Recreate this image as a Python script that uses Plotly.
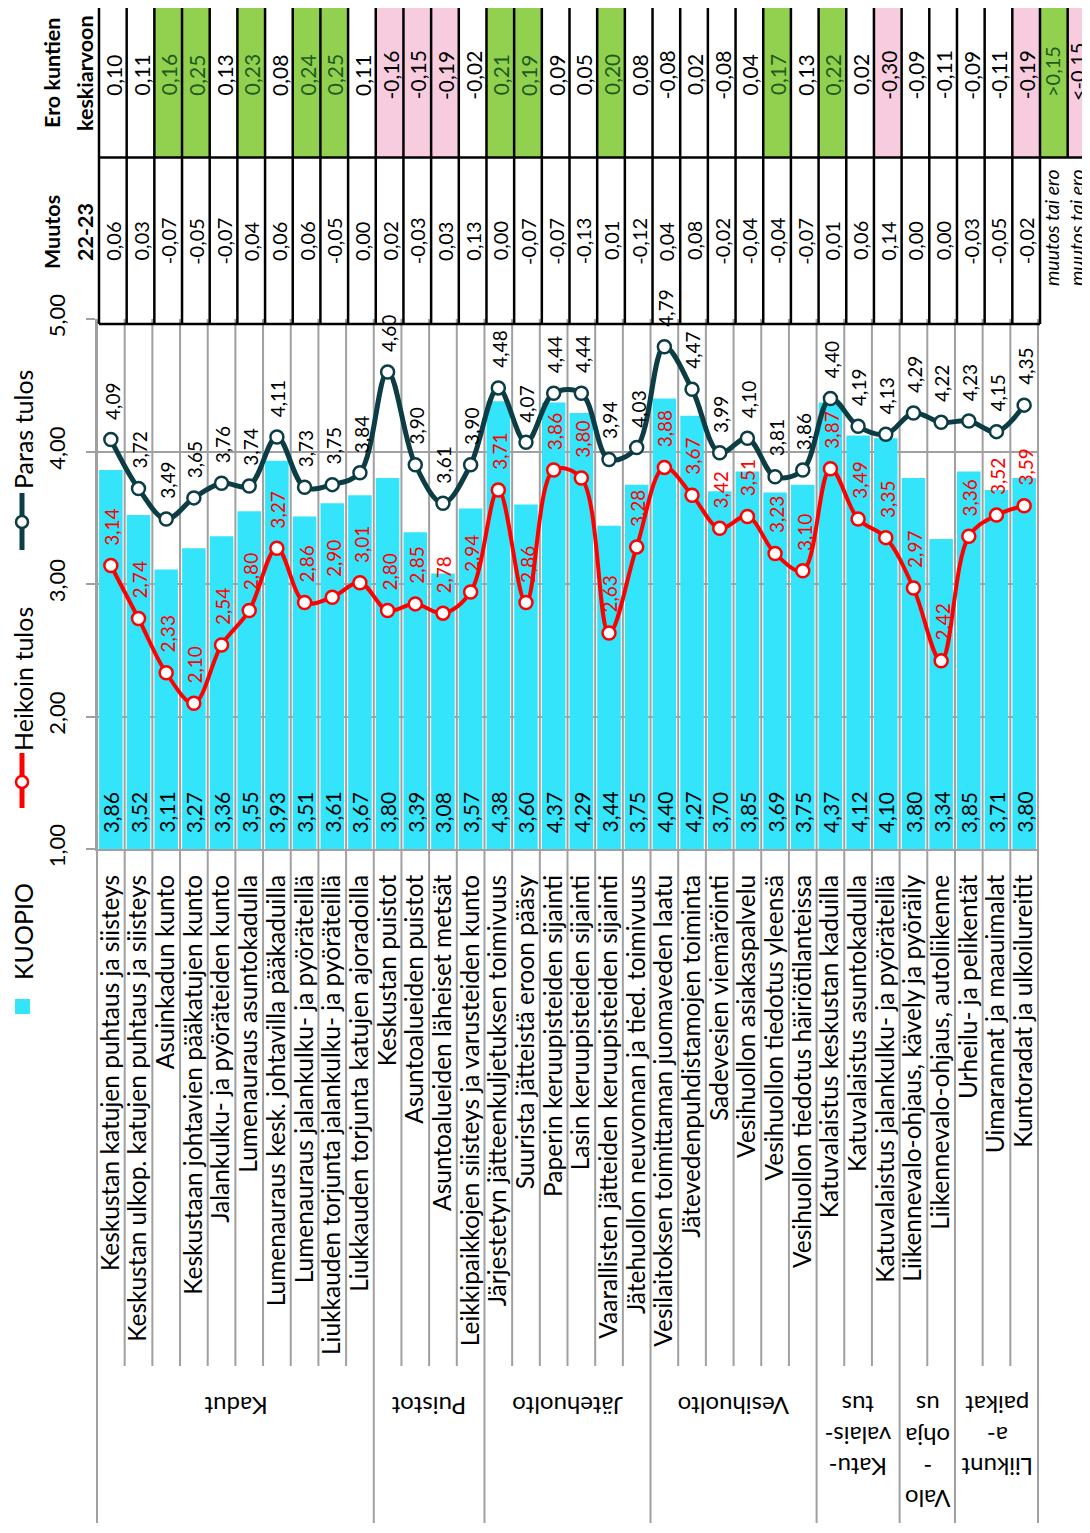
import plotly.graph_objects as go

categories = [
    "Keskustan katujen puhtaus ja siisteys",
    "Keskustan ulkop. katujen puhtaus ja siisteys",
    "Asuinkadun kunto",
    "Keskustaan johtavien pääkatujen kunto",
    "Jalankulku- ja pyöräteiden kunto",
    "Lumenauraus asuntokadulla",
    "Lumenauraus kesk. johtavilla pääkaduilla",
    "Lumenauraus jalankulku- ja pyöräteillä",
    "Liukkauden torjunta jalankulku- ja pyöräteillä",
    "Liukkauden torjunta katujen ajoradoilla",
    "Keskustan puistot",
    "Asuntoalueiden puistot",
    "Asuntoalueiden läheiset metsät",
    "Leikkipaikkojen siisteys ja varusteiden kunto",
    "Järjestetyn jätteenkuljetuksen toimivuus",
    "Suurista jätteistä eroon pääsy",
    "Paperin keruupisteiden sijainti",
    "Lasin keruupisteiden sijainti",
    "Vaarallisten jätteiden keruupisteiden sijainti",
    "Jätehuollon neuvonnan ja tied. toimivuus",
    "Vesilaitoksen toimittaman juomaveden laatu",
    "Jätevedenpuhdistamojen toiminta",
    "Sadevesien viemäröinti",
    "Vesihuollon asiakaspalvelu",
    "Vesihuollon tiedotus yleensä",
    "Vesihuollon tiedotus häiriötilanteissa",
    "Katuvalaistus keskustan kaduilla",
    "Katuvalaistus asuntokadulla",
    "Katuvalaistus jalankulku- ja pyöräteillä",
    "Liikennevalo-ohjaus, kävely ja pyöräily",
    "Liikennevalo-ohjaus, autoliikenne",
    "Urheilu- ja pelikentät",
    "Uimarannat ja maauimalat",
    "Kuntoradat ja ulkoilureitit",
]
kuopio = [3.86, 3.52, 3.11, 3.27, 3.36, 3.55, 3.93, 3.51, 3.61, 3.67,
          3.80, 3.39, 3.08, 3.57,
          4.38, 3.60, 4.37, 4.29, 3.44, 3.75,
          4.40, 4.27, 3.70, 3.85, 3.69, 3.75,
          4.37, 4.12, 4.10,
          3.80, 3.34,
          3.85, 3.71, 3.80]
heikoin = [3.14, 2.74, 2.33, 2.10, 2.54, 2.80, 3.27, 2.86, 2.90, 3.01,
           2.80, 2.85, 2.78, 2.94,
           3.71, 2.86, 3.86, 3.80, 2.63, 3.28,
           3.88, 3.67, 3.42, 3.51, 3.23, 3.10,
           3.87, 3.49, 3.35,
           2.97, 2.42,
           3.36, 3.52, 3.59]
paras = [4.09, 3.72, 3.49, 3.65, 3.76, 3.74, 4.11, 3.73, 3.75, 3.84,
         4.60, 3.90, 3.61, 3.90,
         4.48, 4.07, 4.44, 4.44, 3.94, 4.03,
         4.79, 4.47, 3.99, 4.10, 3.81, 3.86,
         4.40, 4.19, 4.13,
         4.29, 4.22,
         4.23, 4.15, 4.35]
muutos = [0.06, 0.03, -0.07, -0.05, -0.07, 0.04, 0.06, 0.06, -0.05, 0.00,
          0.02, -0.03, 0.03, 0.13,
          0.00, -0.07, -0.07, -0.13, 0.01, -0.12,
          0.04, 0.08, -0.02, -0.04, -0.04, -0.07,
          0.01, 0.06, 0.14,
          0.00, 0.00,
          -0.03, -0.05, -0.02]
ero = [0.10, 0.11, 0.16, 0.25, 0.13, 0.23, 0.08, 0.24, 0.25, 0.11,
       -0.16, -0.15, -0.19, -0.02,
       0.21, 0.19, 0.09, 0.05, 0.20, 0.08,
       -0.08, 0.02, -0.08, 0.04, 0.17, 0.13,
       0.22, 0.02, -0.30,
       -0.09, -0.11,
       -0.09, -0.11, -0.19]
group_names = ["Kadut", "Puistot", "Jätehuolto", "Vesihuolto",
               "Katu-<br>valais-<br>tus", "Valo<br>-<br>ohja<br>us", "Liikunt<br>a-<br>paikat"]
group_sizes = [10, 4, 6, 6, 3, 2, 3]
series_names = ["KUOPIO", "Heikoin tulos", "Paras tulos"]
table_headers = [("Ero kuntien", "keskiarvoon"), ("Muutos", "22-23")]
threshold_texts = [">0,15", "<-0,15"]
note_text = "muutos tai ero"

# ---- styling / geometry (screen pixel coordinates) ----
OFF = 8                      # default page margin of the html body
W, H = 1090 - OFF, 1533 - 2 * OFF
L, R, T, B = 97, 1038, 319, 849
N = len(categories)
CW = (R - L) / N
FONT = "Lato"
CYAN = "#33E4FA"
RED = "#FF0000"
TEAL = "#0C3D44"
GRID = "#A0A0A0"
GREEN = "#92D050"
PINK = "#F8CCDF"
DKGREEN = "#1D5C1D"


def fmt(v):
    return f"{v:.2f}".replace(".", ",")


def px(x):
    return (x - L) / (R - L)


def py(y):
    return (B - y) / (B - T)


fig = go.Figure()
fig.add_trace(go.Bar(x=categories, y=kuopio, marker=dict(color=CYAN, line=dict(width=0)),
                     name=series_names[0]))
fig.add_trace(go.Scatter(x=categories, y=heikoin, mode="lines+markers", name=series_names[1],
                         line=dict(color=RED, width=4, shape="spline", smoothing=1.0),
                         marker=dict(size=13, color="white", line=dict(color=RED, width=2.5))))
fig.add_trace(go.Scatter(x=categories, y=paras, mode="lines+markers", name=series_names[2],
                         line=dict(color=TEAL, width=5, shape="spline", smoothing=1.0),
                         marker=dict(size=13, color="white", line=dict(color=TEAL, width=2.5))))

shapes = []
annotations = []

# vertical separators (plot + category label area)
group_bounds = [0]
for s in group_sizes:
    group_bounds.append(group_bounds[-1] + s)
for k in range(N + 1):
    xp = k / N
    yend = 1523 if k in group_bounds else 1366
    shapes.append(dict(type="line", xref="paper", yref="paper", x0=xp, x1=xp,
                       y0=1.0, y1=py(yend), line=dict(color=GRID, width=2), layer="below"))

# group labels
gy = {1: 1407, 3: 1437, 4: 1453}
for name, start, size in zip(group_names, group_bounds[:-1], group_sizes):
    nlines = name.count("<br>") + 1
    cx = L + (start + size / 2) * CW
    annotations.append(dict(text=name, x=px(cx), y=py(gy[nlines]), xref="paper", yref="paper",
                            showarrow=False, textangle=180, xanchor="center", yanchor="middle",
                            font=dict(family=FONT, size=24, color="black")))

# bar value labels
for c, v in zip(categories, kuopio):
    annotations.append(dict(text=fmt(v), x=c, y=1, xref="x", yref="y", showarrow=False,
                            textangle=-90, yanchor="bottom", yshift=14,
                            font=dict(family=FONT, size=21, color="black")))
# line labels
for c, v in zip(categories, heikoin):
    annotations.append(dict(text=fmt(v), x=c, y=v, xref="x", yref="y", showarrow=False,
                            textangle=-90, yanchor="bottom", yshift=18, xshift=1,
                            font=dict(family=FONT, size=19, color=RED)))
for c, v in zip(categories, paras):
    annotations.append(dict(text=fmt(v), x=c, y=v, xref="x", yref="y", showarrow=False,
                            textangle=-90, yanchor="bottom", yshift=18, xshift=1,
                            font=dict(family=FONT, size=19, color="black")))

# ---- table ----
TX = 2  # table offset px
ERO_Y0, ERO_Y1, MU_Y1 = -5, 157.5, 324


def tx(k):
    return L + k * CW + TX


for k, v in enumerate(ero):
    fill = GREEN if v >= 0.15 else (PINK if v <= -0.15 else None)
    if fill:
        shapes.append(dict(type="rect", xref="paper", yref="paper", x0=px(tx(k)), x1=px(tx(k + 1)),
                           y0=py(ERO_Y0), y1=py(ERO_Y1), fillcolor=fill, line=dict(width=0),
                           layer="above"))
    tcol = DKGREEN if v >= 0.15 else "black"
    annotations.append(dict(text=fmt(v), x=px(tx(k + 0.5)), y=py(75), xref="paper", yref="paper",
                            showarrow=False, textangle=-90, xanchor="center", yanchor="middle",
                            font=dict(family=FONT, size=21, color=tcol)))
for k, v in enumerate(muutos):
    annotations.append(dict(text=fmt(v), x=px(tx(k + 0.5)), y=py(241), xref="paper", yref="paper",
                            showarrow=False, textangle=-90, xanchor="center", yanchor="middle",
                            font=dict(family=FONT, size=20, color="black")))
# threshold legend cells
legend_text_x = [1052, 1077]
for j, (txt, fill, tcol) in enumerate(zip(threshold_texts, [GREEN, PINK], [DKGREEN, "black"])):
    k = N + j
    shapes.append(dict(type="rect", xref="paper", yref="paper", x0=px(tx(k)), x1=px(tx(k + 1)),
                       y0=py(ERO_Y0), y1=py(ERO_Y1), fillcolor=fill, line=dict(width=0), layer="above"))
    annotations.append(dict(text=txt, x=px(legend_text_x[j]), y=py(72), xref="paper", yref="paper",
                            showarrow=False, textangle=-90, xanchor="center", yanchor="middle",
                            font=dict(family=FONT, size=20, color=tcol)))
    annotations.append(dict(text=f"<i>{note_text}</i>", x=px(legend_text_x[j]), y=py(228),
                            xref="paper", yref="paper", showarrow=False, textangle=-90,
                            xanchor="center", yanchor="middle",
                            font=dict(family=FONT, size=19.5, color="black")))
# table lines
for k in range(N + 1):
    shapes.append(dict(type="line", xref="paper", yref="paper", x0=px(tx(k)), x1=px(tx(k)),
                       y0=py(ERO_Y0), y1=py(MU_Y1), line=dict(color="black", width=2.5), layer="above"))
shapes.append(dict(type="line", xref="paper", yref="paper", x0=px(tx(N + 1)), x1=px(tx(N + 1)),
                   y0=py(ERO_Y0), y1=py(ERO_Y1), line=dict(color="black", width=2.5), layer="above"))
shapes.append(dict(type="line", xref="paper", yref="paper", x0=px(tx(0)), x1=px(tx(N + 2)),
                   y0=py(ERO_Y1), y1=py(ERO_Y1), line=dict(color="black", width=2.5), layer="above"))
shapes.append(dict(type="line", xref="paper", yref="paper", x0=px(tx(0)), x1=px(tx(N)),
                   y0=py(MU_Y1), y1=py(MU_Y1), line=dict(color="black", width=2.5), layer="above"))

# table headers
for (l1, l2), yc in zip(table_headers, [73, 232]):
    for txt, xc in [(l1, 52), (l2, 85)]:
        annotations.append(dict(text=f"<b>{txt}</b>", x=px(xc), y=py(yc), xref="paper", yref="paper",
                                showarrow=False, textangle=-90, xanchor="center", yanchor="middle",
                                font=dict(family=FONT, size=21.5, color="black")))

# ---- manual legend ----
LX = 22
# Paras
shapes.append(dict(type="line", xref="paper", yref="paper", x0=px(LX), x1=px(LX),
                   y0=py(493), y1=py(550), line=dict(color=TEAL, width=5)))
shapes.append(dict(type="circle", xref="paper", yref="paper", x0=px(LX - 6), x1=px(LX + 6),
                   y0=py(522 + 6), y1=py(522 - 6), fillcolor="white", line=dict(color=TEAL, width=2.5)))
annotations.append(dict(text=series_names[2], x=px(LX + 1), y=py(430), xref="paper", yref="paper",
                        showarrow=False, textangle=-90, xanchor="center", yanchor="middle",
                        font=dict(family=FONT, size=25, color="black")))
# Heikoin
shapes.append(dict(type="line", xref="paper", yref="paper", x0=px(LX), x1=px(LX),
                   y0=py(753), y1=py(808), line=dict(color=RED, width=5)))
shapes.append(dict(type="circle", xref="paper", yref="paper", x0=px(LX - 6), x1=px(LX + 6),
                   y0=py(782 + 6), y1=py(782 - 6), fillcolor="white", line=dict(color=RED, width=2.5)))
annotations.append(dict(text=series_names[1], x=px(LX + 1), y=py(679), xref="paper", yref="paper",
                        showarrow=False, textangle=-90, xanchor="center", yanchor="middle",
                        font=dict(family=FONT, size=25, color="black")))
# KUOPIO
shapes.append(dict(type="rect", xref="paper", yref="paper", x0=px(15), x1=px(30),
                   y0=py(1014), y1=py(999), fillcolor=CYAN, line=dict(width=0)))
annotations.append(dict(text=series_names[0], x=px(LX + 1), y=py(932), xref="paper", yref="paper",
                        showarrow=False, textangle=-90, xanchor="center", yanchor="middle",
                        font=dict(family=FONT, size=25, color="black")))

fig.update_layout(
    template="none",
    width=W, height=H, autosize=False,
    margin=dict(l=L - OFF, r=W - (R - OFF), t=T - OFF, b=H - (B - OFF), pad=0),
    paper_bgcolor="white", plot_bgcolor="white",
    showlegend=False, separators=", ",
    font=dict(family=FONT, color="black"),
    bargap=0.15,
    shapes=shapes, annotations=annotations,
    xaxis=dict(type="category", range=[-0.5, N - 0.5], tickangle=-90, automargin=False,
               tickmode="linear", tick0=0, dtick=1,
               tickfont=dict(family=FONT, size=24.5, color="black"), showline=True,
               linecolor=GRID, linewidth=2, ticks="", showgrid=False, zeroline=False,
               ticklabelstandoff=14),
    yaxis=dict(range=[1, 5], dtick=1, tickformat=".2f", tickangle=-90, automargin=False,
               tickfont=dict(family=FONT, size=22, color="black"), showline=True,
               linecolor=GRID, linewidth=2, ticks="outside", ticklen=9, tickcolor=GRID,
               tickwidth=2, showgrid=True, gridcolor=GRID, gridwidth=1.5, zeroline=False,
               ticklabelstandoff=12),
)

fig.write_html("out.html")
